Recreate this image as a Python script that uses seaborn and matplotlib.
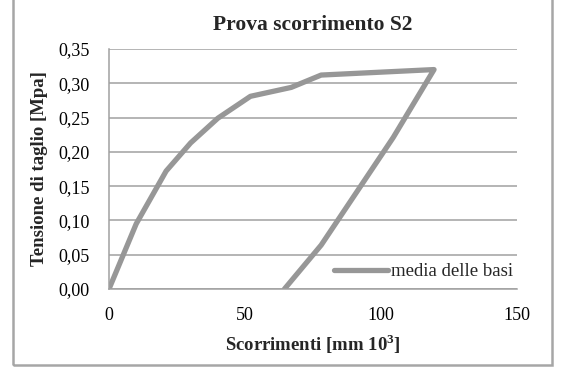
import matplotlib
matplotlib.use("Agg")
import matplotlib.pyplot as plt
import matplotlib.ticker as mticker
from matplotlib.patches import Rectangle
import seaborn as sns
import pandas as pd

# Shear-slip loop, averaged over the bases
slip = [0, 10, 21, 30, 40, 52, 67, 78, 119.5, 104.5, 78, 64.5]
stress = [0.000, 0.095, 0.172, 0.213, 0.249, 0.281, 0.294, 0.312, 0.320,
          0.221, 0.064, 0.000]
series_name = "media delle basi"
x_ticks = [0, 50, 100, 150]
y_ticks = [0.00, 0.05, 0.10, 0.15, 0.20, 0.25, 0.30, 0.35]

df = pd.DataFrame({"slip": slip, "stress": stress, "serie": series_name})

sns.set_theme(style="white")
plt.rcParams["font.family"] = ["Liberation Serif", "DejaVu Serif"]

fig = plt.figure(figsize=(5.64, 3.72), dpi=100)
ax = fig.add_axes([109 / 564, 1 - 289 / 372, (517 - 109) / 564, (289 - 49) / 372])

grid_c = "#a0a0a0"
line_c = "#979797"
lw = 3.8

sns.lineplot(data=df, x="slip", y="stress", hue="serie", sort=False,
             estimator=None, palette=[line_c], linewidth=lw, ax=ax,
             solid_joinstyle="round", solid_capstyle="round")

ax.set_xlim(0, 150)
ax.set_ylim(0, 0.35)
ax.set_xticks(x_ticks)
ax.set_yticks(y_ticks)
ax.yaxis.set_major_formatter(mticker.FuncFormatter(lambda v, p: f"{v:.2f}".replace(".", ",")))
ax.tick_params(axis="y", length=0, labelsize=13, colors="black", pad=14)
ax.tick_params(axis="x", length=0, labelsize=13, colors="black", pad=13)
ax.yaxis.grid(True, color=grid_c, linewidth=1.1)
ax.set_axisbelow(True)
for s in ["top", "right"]:
    ax.spines[s].set_visible(False)
for s in ["left", "bottom"]:
    ax.spines[s].set_color(grid_c)
    ax.spines[s].set_linewidth(1.1)

ax.set_xlabel("Scorrimenti [mm 10$^{\\mathregular{3}}$]", fontsize=13.5,
              fontweight="bold", labelpad=6)
ax.set_ylabel("Tensione di taglio [Mpa]", fontsize=13.5, fontweight="bold", labelpad=7)
ax.set_title("Prova scorrimento S2", fontsize=15.5, fontweight="bold", pad=14)

leg = ax.legend(loc="lower right", frameon=False, fontsize=13.5, handlelength=2.9,
                handletextpad=0.15, borderaxespad=0.0, borderpad=0.2,
                bbox_to_anchor=(1.0, 0.02))
for h in leg.get_lines():
    h.set_linewidth(lw)

# outer chart frame
fig.patches.append(Rectangle((13 / 564, 1 - 365 / 372), (552 - 13) / 564, 365 / 372 + 0.05,
                             transform=fig.transFigure, fill=False,
                             edgecolor="#a6a6a6", linewidth=1.8, clip_on=False))

fig.savefig("out.png", dpi=100)
